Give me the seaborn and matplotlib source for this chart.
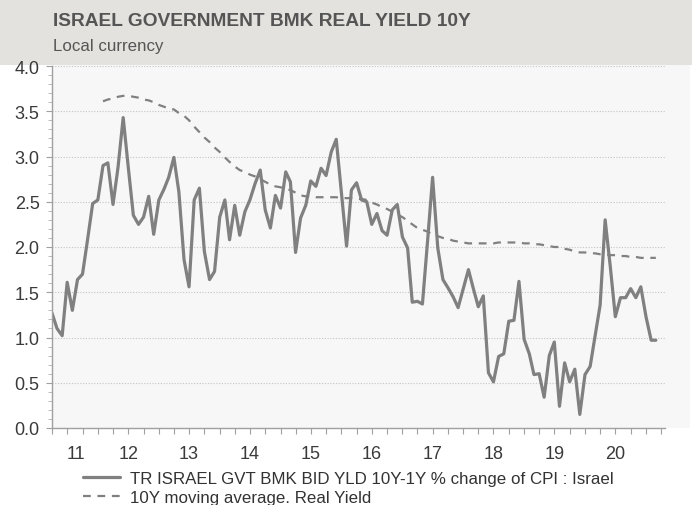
import matplotlib
matplotlib.use('Agg')
import matplotlib.pyplot as plt
import matplotlib.dates as mdates
from matplotlib.patches import Rectangle
from matplotlib.ticker import FixedLocator, FixedFormatter, MultipleLocator, NullFormatter, FormatStrFormatter
import pandas as pd
import seaborn as sns

# ---------------- data ----------------
start_month = '2011-04-01'
real_yield = [
    1.27, 1.10, 1.02, 1.61, 1.30, 1.64, 1.70, 2.09, 2.48, 2.52,
    2.90, 2.93, 2.47, 2.88, 3.43, 2.89, 2.35, 2.25, 2.33, 2.56,
    2.14, 2.52, 2.64, 2.77, 2.99, 2.61, 1.86, 1.56, 2.52, 2.65,
    1.95, 1.64, 1.73, 2.33, 2.52, 2.08, 2.46, 2.13, 2.39, 2.52,
    2.70, 2.85, 2.41, 2.21, 2.57, 2.43, 2.83, 2.72, 1.94, 2.32,
    2.46, 2.73, 2.67, 2.87, 2.79, 3.05, 3.19, 2.60, 2.01, 2.63,
    2.71, 2.52, 2.50, 2.25, 2.37, 2.18, 2.13, 2.41, 2.47, 2.11,
    1.99, 1.39, 1.40, 1.37, 2.07, 2.77, 1.99, 1.64, 1.55, 1.45,
    1.33, 1.54, 1.75, 1.55, 1.34, 1.46, 0.61, 0.51, 0.79, 0.82,
    1.18, 1.19, 1.62, 0.98, 0.82, 0.59, 0.60, 0.34, 0.80, 0.95,
    0.24, 0.72, 0.51, 0.65, 0.15, 0.59, 0.68, 1.01, 1.36, 2.30,
    1.78, 1.23, 1.44, 1.44, 1.54, 1.44, 1.56, 1.23, 0.97, 0.97,
]
ma_start_index = 10
moving_avg = [
    3.61, 3.63, 3.64, 3.66, 3.67, 3.67, 3.66, 3.65, 3.63, 3.62,
    3.60, 3.57, 3.55, 3.53, 3.52, 3.48, 3.45, 3.40, 3.33, 3.27,
    3.21, 3.16, 3.10, 3.05, 2.99, 2.94, 2.89, 2.85, 2.83, 2.80,
    2.78, 2.75, 2.72, 2.69, 2.67, 2.66, 2.64, 2.63, 2.60, 2.57,
    2.56, 2.56, 2.55, 2.55, 2.55, 2.55, 2.55, 2.54, 2.54, 2.54,
    2.53, 2.53, 2.52, 2.49, 2.47, 2.44, 2.42, 2.39, 2.36, 2.33,
    2.29, 2.25, 2.21, 2.19, 2.17, 2.14, 2.12, 2.10, 2.09, 2.07,
    2.06, 2.05, 2.04, 2.04, 2.04, 2.04, 2.04, 2.04, 2.05, 2.05,
    2.05, 2.05, 2.05, 2.04, 2.04, 2.03, 2.03, 2.02, 2.01, 2.00,
    2.00, 1.98, 1.97, 1.95, 1.94, 1.94, 1.93, 1.93, 1.92, 1.92,
    1.91, 1.91, 1.90, 1.90, 1.89, 1.89, 1.88, 1.88, 1.88, 1.88,
]
year_labels = ['11', '12', '13', '14', '15', '16', '17', '18', '19', '20']
year_label_dates = ['2011-08-20', '2012-07-01', '2013-07-01', '2014-07-01', '2015-07-01',
                    '2016-07-01', '2017-07-01', '2018-07-01', '2019-07-01', '2020-07-01']
series_names = ['TR ISRAEL GVT BMK BID YLD 10Y-1Y % change of CPI : Israel',
                '10Y moving average. Real Yield']
title_text = 'ISRAEL GOVERNMENT BMK REAL YIELD 10Y'
subtitle_text = 'Local currency'

dates = pd.date_range(start_month, periods=len(real_yield), freq='MS')
df_main = pd.DataFrame({'date': dates, 'value': real_yield})
df_ma = pd.DataFrame({'date': dates[ma_start_index:ma_start_index + len(moving_avg)],
                      'value': moving_avg})

# ---------------- style ----------------
sns.set_theme(style='white')
plt.rcParams['font.family'] = ['Liberation Sans', 'DejaVu Sans']

W, H = 692, 506
fig = plt.figure(figsize=(W / 100, H / 100), dpi=100)
fig.patch.set_facecolor('white')

band_h = 66
fig.patches.append(Rectangle((0, 1 - band_h / H), 1, band_h / H, transform=fig.transFigure,
                             facecolor='#e3e2de', edgecolor='none', zorder=-2))
ax_l, ax_r, ax_t, ax_b = 52, 665, 67, 429
fig.patches.append(Rectangle((ax_l / W, 1 - ax_b / H), (690 - ax_l) / W, (ax_b - band_h) / H,
                             transform=fig.transFigure, facecolor='#f7f7f7',
                             edgecolor='none', zorder=-2))

ax = fig.add_axes([ax_l / W, 1 - ax_b / H, (ax_r - ax_l) / W, (ax_b - ax_t) / H])
ax.set_facecolor('#f7f7f7')
ax.set_zorder(1)

line_color = '#808080'
sns.lineplot(data=df_main, x='date', y='value', ax=ax, color=line_color, linewidth=2.3,
             label=series_names[0])
sns.lineplot(data=df_ma, x='date', y='value', ax=ax, color=line_color, linewidth=1.6,
             label=series_names[1], dashes=False)
ax.lines[1].set_linestyle((0, (3.5, 3.0)))

ax.set_xlim(pd.Timestamp('2011-04-01'), pd.Timestamp('2021-04-25'))
ax.set_ylim(0, 4.0)
ax.set_xlabel('')
ax.set_ylabel('')

# y axis
ax.yaxis.set_major_locator(MultipleLocator(0.5))
ax.yaxis.set_minor_locator(MultipleLocator(0.1))
ax.yaxis.set_major_formatter(FormatStrFormatter('%.1f'))
ax.tick_params(axis='y', which='major', length=4, width=0.8, color='#a0a0a0',
               labelsize=13, labelcolor='#3a3a3a', pad=5, direction='out', left=True)
ax.tick_params(axis='y', which='minor', length=3, width=0.6, color='#b0b0b0',
               direction='out', left=True)
ax.grid(axis='y', which='major', linestyle=(0, (1, 1.5)), color='#c4c4c4', linewidth=0.8)
ax.set_axisbelow(True)

# x axis
ax.xaxis.remove_overlapping_locs = False
ax.xaxis.set_major_locator(mdates.MonthLocator(bymonth=[1, 4, 7, 10]))
ax.xaxis.set_major_formatter(NullFormatter())
ax.xaxis.set_minor_locator(FixedLocator(mdates.date2num(pd.to_datetime(year_label_dates))))
ax.xaxis.set_minor_formatter(FixedFormatter(year_labels))
ax.tick_params(axis='x', which='major', length=4, width=0.8, color='#a0a0a0',
               direction='out', bottom=True)
ax.tick_params(axis='x', which='minor', length=0, labelsize=13, labelcolor='#3a3a3a',
               pad=12, bottom=True)

for s in ['top', 'right']:
    ax.spines[s].set_visible(False)
for s in ['left', 'bottom']:
    ax.spines[s].set_color('#a0a0a0')
    ax.spines[s].set_linewidth(1.0)

# legend
handles, labels = ax.get_legend_handles_labels()
ax.get_legend().remove()
fig.legend(handles, labels, loc='upper left', bbox_to_anchor=(83 / W, 1 - 472 / H),
           frameon=False, fontsize=12.2, labelcolor='#333333', handlelength=2.2,
           handletextpad=0.6, labelspacing=0.25, borderpad=0, borderaxespad=0)

# titles
fig.text(53 / W, 1 - 21 / H, title_text, fontsize=13.8, fontweight='bold', color='#555555',
         va='center', ha='left')
fig.text(53 / W, 1 - 46 / H, subtitle_text, fontsize=12.2, color='#555555',
         va='center', ha='left')

fig.savefig('out.png', dpi=100, facecolor=fig.get_facecolor())
